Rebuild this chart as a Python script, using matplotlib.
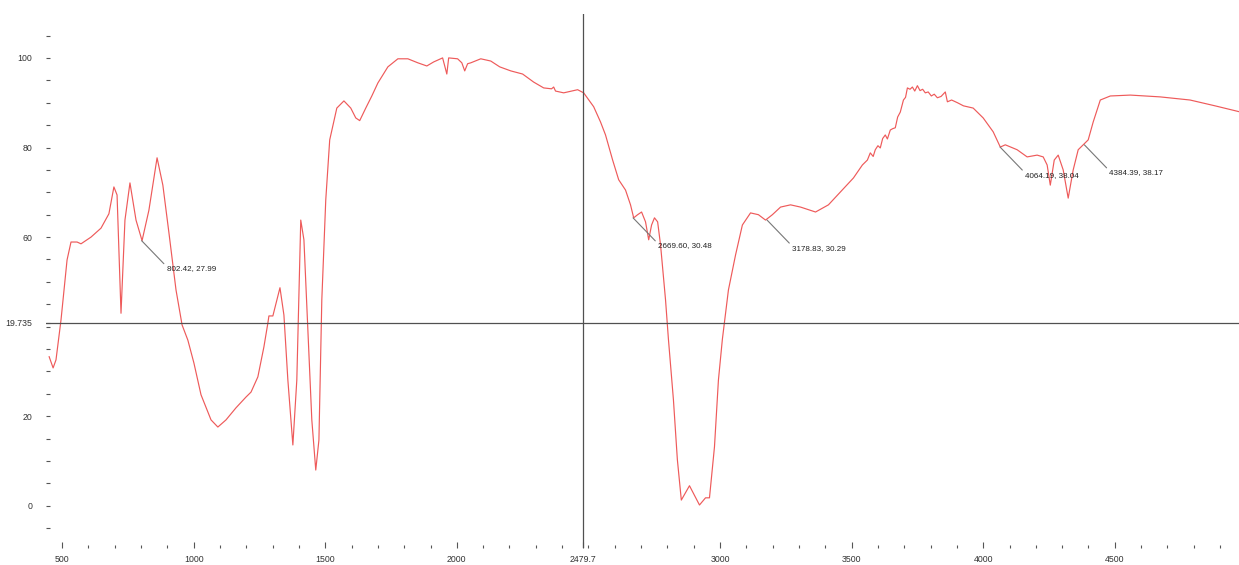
import numpy as np
import matplotlib
matplotlib.use('Agg')
import matplotlib.pyplot as plt

# spectrum (wavenumber, signal)
wavenumber = [451, 466, 477, 496, 519, 534, 557, 572, 610, 648, 678, 697, 709, 724, 739,
              758, 781, 804, 830, 861, 883, 906, 933, 956, 978, 1001, 1028, 1066, 1092, 1123,
              1161, 1199, 1218, 1244, 1267, 1282, 1286, 1301, 1328, 1343, 1358, 1377, 1392,
              1407, 1419, 1434, 1449, 1464, 1476, 1487, 1502, 1517, 1544, 1571, 1597, 1616,
              1631, 1654, 1677, 1700, 1738, 1776, 1814, 1852, 1886, 1912, 1946, 1962, 1969,
              2003, 2019, 2030, 2041, 2053, 2091, 2129, 2163, 2205, 2250, 2292, 2330, 2360,
              2368, 2375, 2406, 2459, 2482, 2520, 2546, 2565, 2592, 2615, 2641, 2660, 2672,
              2687, 2702, 2717, 2729, 2740, 2751, 2763, 2774, 2793, 2804, 2823, 2838, 2853,
              2884, 2922, 2945, 2960, 2979, 2994, 3009, 3032, 3059, 3085, 3116, 3146, 3173,
              3199, 3230, 3268, 3306, 3363, 3412, 3458, 3507, 3541, 3560, 3571, 3582, 3590,
              3600, 3609, 3618, 3628, 3636, 3647, 3656, 3666, 3675, 3685, 3697, 3705, 3712,
              3722, 3731, 3740, 3750, 3760, 3770, 3780, 3791, 3803, 3814, 3826, 3840, 3856,
              3864, 3880, 3902, 3925, 3962, 4000, 4038, 4065, 4084, 4129, 4167, 4205, 4228,
              4243, 4255, 4270, 4285, 4304, 4323, 4342, 4361, 4380, 4399, 4418, 4445, 4483,
              4559, 4672, 4786, 4881, 4972]
signal = [33.3, 30.8, 32.6, 41.5, 54.9, 58.9, 58.9, 58.5, 60.0, 62.0, 65.2, 71.2, 69.4, 43.0, 63.8,
          72.1, 63.8, 59.2, 66.0, 77.7, 71.6, 61.0, 48.2, 40.4, 37.0, 31.9, 24.8, 19.2, 17.6, 19.2,
          21.9, 24.3, 25.4, 28.8, 35.5, 40.8, 42.4, 42.4, 48.7, 42.6, 28.1, 13.6, 28.1,
          63.8, 59.4, 39.3, 19.2, 8.0, 14.7, 46.0, 68.3, 81.7, 88.8, 90.4, 88.8, 86.6,
          86.0, 88.8, 91.5, 94.4, 98.0, 99.8, 99.8, 98.9, 98.2, 99.1, 100.0, 96.4, 100.0,
          99.8, 98.9, 97.1, 98.7, 98.9, 99.8, 99.3, 98.0, 97.1, 96.4, 94.6, 93.3, 93.1,
          93.5, 92.6, 92.2, 92.9, 92.2, 89.1, 85.7, 82.8, 77.2, 72.8, 70.5, 67.2, 64.3,
          65.0, 65.6, 63.4, 59.4, 62.7, 64.3, 63.4, 58.3, 46.0, 37.2, 23.7, 10.3, 1.3,
          4.5, 0.2, 1.8, 1.8, 13.2, 28.1, 37.2, 48.2, 56.0, 62.7, 65.4, 65.0, 63.8,
          65.0, 66.7, 67.2, 66.7, 65.6, 67.2, 70.1, 73.2, 76.1, 77.2, 78.8, 78.0, 79.5,
          80.4, 79.9, 82.0, 82.8, 81.9, 83.9, 84.2, 84.4, 86.8, 87.9, 90.6, 91.2, 93.3,
          93.0, 93.5, 92.6, 93.8, 92.7, 93.0, 92.2, 92.4, 91.5, 91.9, 91.1, 91.4, 92.4,
          90.2, 90.6, 90.0, 89.3, 88.8, 86.6, 83.5, 80.1, 80.6, 79.5, 77.9, 78.3, 77.9,
          76.1, 71.6, 77.2, 78.3, 75.0, 68.7, 75.0, 79.5, 80.6, 81.7, 85.7, 90.6, 91.5,
          91.7, 91.3, 90.6, 89.3, 88.0]

# peak labels
peak_x = [802.42, 2669.60, 3178.83, 4064.19, 4384.39]
peak_y = [59.2, 64.3, 63.8, 80.1, 80.6]
peak_text = ['802.42, 27.99', '2669.60, 30.48', '3178.83, 30.29', '4064.19, 38.04', '4384.39, 38.17']

# cursor
cursor_x = 2479.7
cursor_y = 40.85
cursor_x_label = '2479.7'
cursor_y_label = '19.735'

x_ticks = [500, 1000, 1500, 2000, 3000, 3500, 4000, 4500]
y_ticks = [0, 20, 60, 80, 100]

fig = plt.figure(figsize=(12.39, 5.65), dpi=100)
ax = fig.add_axes([46 / 1239, 17 / 565, 1 - 46 / 1239, 1 - 31 / 565])

ax.plot(wavenumber, signal, color='#ee5a5a', linewidth=0.85)

ax.axvline(cursor_x, color='#505050', linewidth=0.9)
ax.axhline(cursor_y, color='#505050', linewidth=0.9)

for px, py, txt in zip(peak_x, peak_y, peak_text):
    ax.annotate(txt, xy=(px, py), xytext=(25, -28), textcoords='offset pixels',
                ha='left', va='center', fontsize=5.8, family='Liberation Sans', color='#222222',
                arrowprops=dict(arrowstyle='-', color='#777777', linewidth=0.8,
                                shrinkA=0, shrinkB=0, relpos=(0, 0.8)))

ax.set_xlim(439, 4972)
ax.set_ylim(-9.4, 109.8)

ax.set_xticks(x_ticks + [cursor_x])
ax.set_xticklabels([str(v) for v in x_ticks] + [cursor_x_label])
ax.set_xticks(np.arange(500, 4950, 100), minor=True)
ax.set_yticks(y_ticks + [cursor_y])
ax.set_yticklabels([str(v) for v in y_ticks] + [cursor_y_label])
ax.set_yticks(np.arange(-5, 110, 5), minor=True)

ax.tick_params(axis='both', which='both', colors='#555555', labelcolor='#333333',
               labelsize=6.3, width=0.8)
ax.tick_params(axis='x', which='major', length=4, direction='in', pad=5)
ax.tick_params(axis='x', which='minor', length=2, direction='in')
ax.tick_params(axis='y', which='both', length=3, direction='in', pad=10)
for lab in ax.get_xticklabels() + ax.get_yticklabels():
    lab.set_family('Liberation Sans')

for side in ['top', 'right', 'bottom', 'left']:
    ax.spines[side].set_visible(False)

plt.savefig('out.png', dpi=100)
